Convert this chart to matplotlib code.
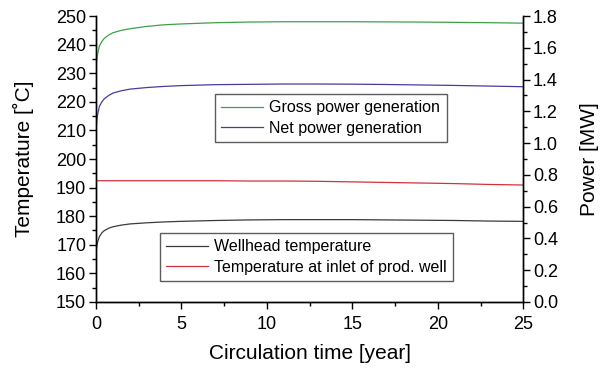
import numpy as np
import matplotlib.pyplot as plt
from matplotlib.ticker import MultipleLocator

plt.rcParams['font.family'] = ['Liberation Sans', 'DejaVu Sans']

# circulation time [year]
t = [0.0, 0.05, 0.1, 0.2, 0.35, 0.5, 0.75, 1.0, 1.5, 2.0, 3.0, 4.0, 5.0, 7.0,
     9.0, 11.0, 13.0, 15.0, 17.0, 19.0, 21.0, 23.0, 25.0]

# temperatures [deg C]
wellhead = [166.5, 169.5, 171.0, 172.8, 174.2, 175.0, 175.8, 176.3, 176.9, 177.3,
            177.7, 178.0, 178.2, 178.5, 178.7, 178.8, 178.8, 178.8, 178.7, 178.6,
            178.5, 178.3, 178.2]
inlet = [192.4, 192.4, 192.4, 192.4, 192.4, 192.4, 192.4, 192.4, 192.4, 192.4,
         192.4, 192.4, 192.4, 192.4, 192.3, 192.3, 192.2, 192.0, 191.8, 191.6,
         191.4, 191.1, 190.9]

# power [MW]
gross = [1.44, 1.52, 1.56, 1.61, 1.64, 1.66, 1.68, 1.695, 1.71, 1.72, 1.735, 1.745,
         1.75, 1.758, 1.762, 1.764, 1.764, 1.764, 1.763, 1.762, 1.76, 1.758, 1.755]
net = [1.06, 1.14, 1.18, 1.23, 1.26, 1.28, 1.30, 1.315, 1.33, 1.34, 1.35, 1.357,
       1.362, 1.368, 1.37, 1.372, 1.372, 1.371, 1.369, 1.366, 1.363, 1.359, 1.355]

fig = plt.figure(figsize=(6.07, 3.69), dpi=100)
ax = fig.add_axes([0.158, 0.1816, 0.704, 0.775])
ax2 = ax.twinx()

c_black = '#3a3a3a'
c_red = '#d2323c'
c_green = '#3ea04c'
c_blue = '#4a3a9c'

l1, = ax.plot(t, wellhead, color=c_black, lw=0.9, label='Wellhead temperature')
l2, = ax.plot(t, inlet, color=c_red, lw=0.9, label='Temperature at inlet of prod. well')
l3, = ax2.plot(t, gross, color=c_green, lw=0.9, label='Gross power generation')
l4, = ax2.plot(t, net, color=c_blue, lw=0.9, label='Net power generation')

ax.set_xlim(0, 25)
ax.set_ylim(150, 250)
ax2.set_ylim(0, 1.8)

ax.xaxis.set_major_locator(MultipleLocator(5))
ax.xaxis.set_minor_locator(MultipleLocator(2.5))
ax.yaxis.set_major_locator(MultipleLocator(10))
ax.yaxis.set_minor_locator(MultipleLocator(5))
ax2.yaxis.set_major_locator(MultipleLocator(0.2))
ax2.yaxis.set_minor_locator(MultipleLocator(0.1))
ax2.yaxis.set_major_formatter(plt.FormatStrFormatter('%.1f'))

for a in (ax, ax2):
    a.spines['top'].set_visible(False)
    for s in a.spines.values():
        s.set_linewidth(1.0)
    a.tick_params(which='major', direction='out', length=5, width=1.0, labelsize=13, pad=2)
    a.tick_params(which='minor', direction='out', length=3, width=1.0)
ax.tick_params(axis='x', which='both', top=False, pad=5)
ax2.tick_params(axis='x', which='both', top=False)

ax.set_xlabel('Circulation time [year]', fontsize=15, labelpad=8)
ax.set_ylabel('Temperature [˚C]', fontsize=15, labelpad=16)
ax2.set_ylabel('Power [MW]', fontsize=15, labelpad=16)

leg_kw = dict(fontsize=11.5, frameon=True, fancybox=False, handlelength=2.6,
              handletextpad=0.4, borderpad=0.4, labelspacing=0.35, borderaxespad=0)
lg1 = ax2.legend(handles=[l3, l4], loc='upper left',
                 bbox_to_anchor=((215 - 96) / 427, (302 - 94) / 286), **leg_kw)
lg1.get_frame().set_edgecolor('#333333')
lg1.get_frame().set_linewidth(1.0)
lg2 = ax2.legend(handles=[l1, l2], loc='upper left',
                 bbox_to_anchor=((160 - 96) / 427, (302 - 233) / 286), **leg_kw)
lg2.get_frame().set_edgecolor('#333333')
lg2.get_frame().set_linewidth(1.0)
ax2.add_artist(lg1)

fig.savefig('out.png', dpi=100)
